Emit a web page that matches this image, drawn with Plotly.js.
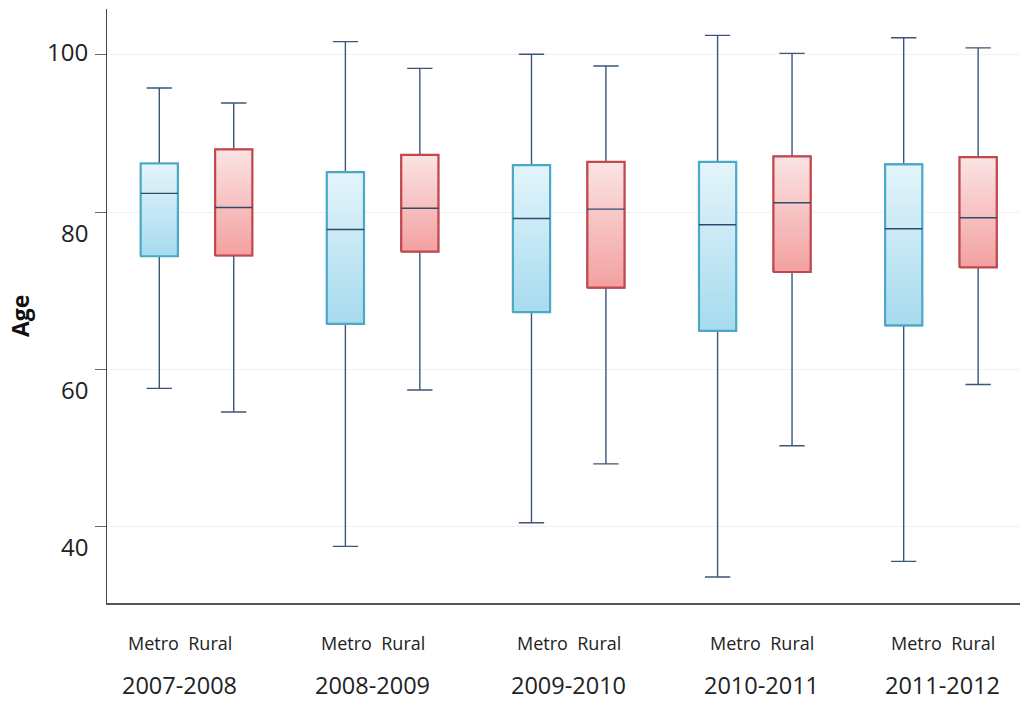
<!DOCTYPE html>
<html>
<head>
<meta charset="utf-8">
<script src="https://cdn.plot.ly/plotly-3.0.1.min.js"></script>
<style>html,body{margin:0;padding:0;background:#fff;}#chart{width:1020px;height:701px;}</style>
</head>
<body>
<div id="chart"></div>
<script>
// ---- data ----
const periods = ["2007-2008", "2008-2009", "2009-2010", "2010-2011", "2011-2012"];
const groups = ["Metro", "Rural"];

const metroLower  = [57.6, 37.5, 40.5, 33.6, 35.6];
const metroQ1     = [74.4, 65.8, 67.3, 64.9, 65.6];
const metroMedian = [82.4, 77.8, 79.2, 78.4, 77.9];
const metroQ3     = [86.2, 85.1, 86.0, 86.4, 86.1];
const metroUpper  = [95.8, 101.7, 100.1, 102.5, 102.2];

const ruralLower  = [54.6, 57.4, 48.0, 50.3, 58.1];
const ruralQ1     = [74.5, 75.0, 70.4, 72.4, 73.0];
const ruralMedian = [80.6, 80.5, 80.4, 81.2, 79.3];
const ruralQ3     = [88.0, 87.3, 86.4, 87.1, 87.0];
const ruralUpper  = [93.9, 98.3, 98.6, 100.2, 100.9];

const yTickVals = [40, 60, 80, 100];
const yTickText = ["40", "60", "80", "100"];

// ---- styling / layout constants ----
const OFFSET = 0.2;      // half distance between Metro and Rural boxes
const HALF_W = 0.1;      // half width of a box
const styles = {
  Metro: {edge: "#4aa9c6", top: "#e4f4fb", bottom: "#a6dbee"},
  Rural: {edge: "#c4474b", top: "#fbe4e4", bottom: "#f3a0a0"}
};
const WHISKER = "#3c5679";
const MEDIAN = "#2f4a6c";
const FONT = "Open Sans, sans-serif";
const labelShift = [-17, -10, 0, 7, 2];
const yLabelShift = [-20, -20, -20, 3];

const series = {
  Metro: {lo: metroLower, q1: metroQ1, med: metroMedian, q3: metroQ3, hi: metroUpper, pos: periods.map((p, i) => i - OFFSET)},
  Rural: {lo: ruralLower, q1: ruralQ1, med: ruralMedian, q3: ruralQ3, hi: ruralUpper, pos: periods.map((p, i) => i + OFFSET)}
};

const traces = [];
// whiskers via box traces
groups.forEach(g => {
  const s = series[g];
  traces.push({
    type: "box", name: g, x: s.pos,
    q1: s.q1, median: s.med, q3: s.q3, lowerfence: s.lo, upperfence: s.hi,
    width: 2 * HALF_W, whiskerwidth: 0.68,
    line: {color: WHISKER, width: 1.4},
    fillcolor: "rgba(0,0,0,0)", boxpoints: false, hoverinfo: "skip", showlegend: false
  });
});
// gradient box bodies
groups.forEach(g => {
  const s = series[g], st = styles[g];
  s.pos.forEach((p, i) => {
    traces.push({
      type: "scatter", mode: "lines",
      x: [p - HALF_W, p + HALF_W, p + HALF_W, p - HALF_W, p - HALF_W],
      y: [s.q1[i], s.q1[i], s.q3[i], s.q3[i], s.q1[i]],
      fill: "toself",
      fillgradient: {type: "vertical", start: s.q1[i], stop: s.q3[i],
        colorscale: [[0, st.bottom], [1, st.top]]},
      line: {color: st.edge, width: 2.2},
      hoverinfo: "skip", showlegend: false
    });
    traces.push({
      type: "scatter", mode: "lines",
      x: [p - HALF_W, p + HALF_W], y: [s.med[i], s.med[i]],
      line: {color: MEDIAN, width: 1.4},
      hoverinfo: "skip", showlegend: false
    });
  });
});

const annotations = [];
periods.forEach((p, i) => {
  annotations.push({
    xref: "x", yref: "paper", x: i, y: 0, yanchor: "top", xanchor: "center",
    xshift: labelShift[i], yshift: -26, showarrow: false,
    text: groups[0] + "  " + groups[1],
    font: {family: FONT, size: 18, color: "#222"}
  });
  annotations.push({
    xref: "x", yref: "paper", x: i, y: 0, yanchor: "top", xanchor: "center",
    xshift: labelShift[i], yshift: -64, showarrow: false,
    text: p,
    font: {family: FONT, size: 23.5, color: "#222"}
  });
});
yTickVals.forEach((v, i) => {
  annotations.push({
    xref: "paper", yref: "y", x: 0, y: v, xanchor: "right", yanchor: "middle",
    xshift: -17, yshift: yLabelShift[i], showarrow: false,
    text: yTickText[i],
    font: {family: FONT, size: 24, color: "#222"}
  });
});
annotations.push({
  xref: "paper", yref: "paper", x: 0, y: 0.483, xanchor: "center", yanchor: "middle",
  xshift: -87, showarrow: false, textangle: -90, text: "<b>Age</b>",
  font: {family: FONT, size: 23, color: "#111"}
});

const layout = {
  width: 1020, height: 701,
  margin: {l: 107, r: 0, t: 9, b: 98},
  paper_bgcolor: "#fff", plot_bgcolor: "#fff",
  showlegend: false,
  xaxis: {type: "linear", range: [-0.481, 4.425], showgrid: false, zeroline: false,
    showline: true, linecolor: "#555", linewidth: 1.5, ticks: "", showticklabels: false,
    fixedrange: true},
  yaxis: {range: [30.3, 105.85], tickvals: yTickVals, showticklabels: false,
    ticks: "outside", ticklen: 11, tickcolor: "#666", tickwidth: 1,
    showgrid: true, gridcolor: "#eef2f2", gridwidth: 1, zeroline: false,
    showline: true, linecolor: "#444", linewidth: 1.5, fixedrange: true},
  annotations: annotations
};

Plotly.newPlot("chart", traces, layout, {displayModeBar: false, staticPlot: true});
</script>
</body>
</html>
